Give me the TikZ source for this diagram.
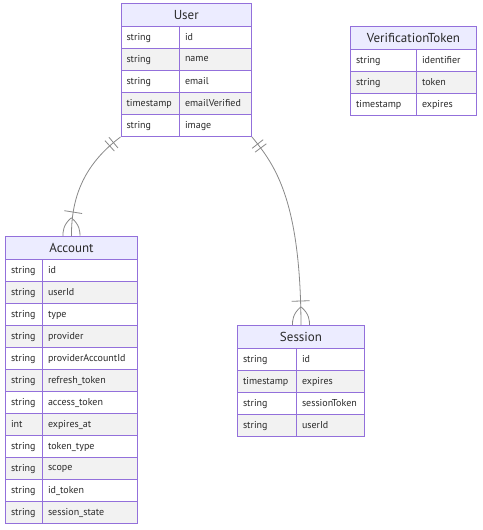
\documentclass[tikz,border=0pt]{standalone}
\usepackage{fontspec}
\setmainfont{PT Sans}
\usetikzlibrary{decorations.markings}

\definecolor{entline}{HTML}{9370DB}
\definecolor{entfill}{HTML}{ECECFF}
\definecolor{rowgrey}{HTML}{F2F2F2}
\definecolor{relline}{HTML}{888888}
\definecolor{txt}{HTML}{2A2A2A}

\begin{document}
\begin{tikzpicture}[
    x=1pt, y=-1pt,
    hdr/.style={draw=entline, fill=entfill, line width=1pt, minimum height=23pt, anchor=north west, inner sep=0pt, text=txt, font=\fontsize{13}{15}\selectfont},
    cell/.style={draw=entline, line width=1pt, minimum height=22pt, anchor=north west, align=left, inner xsep=5.5pt, inner ysep=0pt, text depth=0.5pt, text=txt, font=\fontsize{10}{12}\selectfont},
    rel/.style={color=relline, line width=0.8pt, postaction={decorate}, decoration={markings,
        mark=at position 9pt with {\draw (0pt,-7pt) -- (0pt,7pt);},
        mark=at position 14pt with {\draw (0pt,-7pt) -- (0pt,7pt);},
        mark=at position -24pt with {\draw (0pt,-9pt) -- (0pt,9pt);},
        mark=at position -0.2pt with {\draw (-18pt,0pt) .. controls (-11pt,8.5pt) and (-4pt,8.5pt) .. (0pt,8.5pt);
                                \draw (-18pt,0pt) .. controls (-11pt,-8.5pt) and (-4pt,-8.5pt) .. (0pt,-8.5pt);}}}
]
\useasboundingbox (0,0) rectangle (482,530);

% User
\node[hdr, minimum width=130.5pt] (user-h) at (120.5,3) {User};
\foreach \t/\n/\f [count=\i] in {string/id/white, string/name/rowgrey, string/email/white,
    timestamp/emailVerified/rowgrey, string/image/white} {
  \node[cell, fill=\f, text width=47.5pt] (user-t\i) at (120.5,{26+22*(\i-1)}) {\t};
  \node[cell, fill=\f, text width=61pt] (user-n\i) at (179,{26+22*(\i-1)}) {\n};
}

% VerificationToken
\node[hdr, minimum width=126pt] (vt-h) at (350,25.5) {VerificationToken};
\foreach \t/\n/\f [count=\i] in {string/identifier/white, string/token/rowgrey, timestamp/expires/white} {
  \node[cell, fill=\f, text width=55pt] (vt-t\i) at (350,{48.5+22*(\i-1)}) {\t};
  \node[cell, fill=\f, text width=49pt] (vt-n\i) at (416,{48.5+22*(\i-1)}) {\n};
}

% Account
\node[hdr, minimum width=132pt] (acc-h) at (5,236) {Account};
\foreach \t/\n/\f [count=\i] in {string/id/white, string/userId/rowgrey, string/type/white,
    string/provider/rowgrey, string/providerAccountId/white, string/refresh\_token/rowgrey,
    string/access\_token/white, int/expires\_at/rowgrey, string/token\_type/white,
    string/scope/rowgrey, string/id\_token/white, string/session\_state/rowgrey} {
  \node[cell, fill=\f, text width=26pt] (acc-t\i) at (5,{259+22*(\i-1)}) {\t};
  \node[cell, fill=\f, text width=84pt] (acc-n\i) at (42,{259+22*(\i-1)}) {\n};
}

% Session
\node[hdr, minimum width=127pt] (ses-h) at (237,325) {Session};
\foreach \t/\n/\f [count=\i] in {string/id/white, timestamp/expires/rowgrey,
    string/sessionToken/white, string/userId/rowgrey} {
  \node[cell, fill=\f, text width=48pt] (ses-t\i) at (237,{348+22*(\i-1)}) {\t};
  \node[cell, fill=\f, text width=57pt] (ses-n\i) at (296,{348+22*(\i-1)}) {\n};
}

% relations
\draw[rel] (user-t5.south west) .. controls (90,160) and (71,190) .. (acc-h.north);
\draw[rel] (user-n5.south east) .. controls (275,165) and (300.5,200) .. (ses-h.north);
\end{tikzpicture}
\end{document}
